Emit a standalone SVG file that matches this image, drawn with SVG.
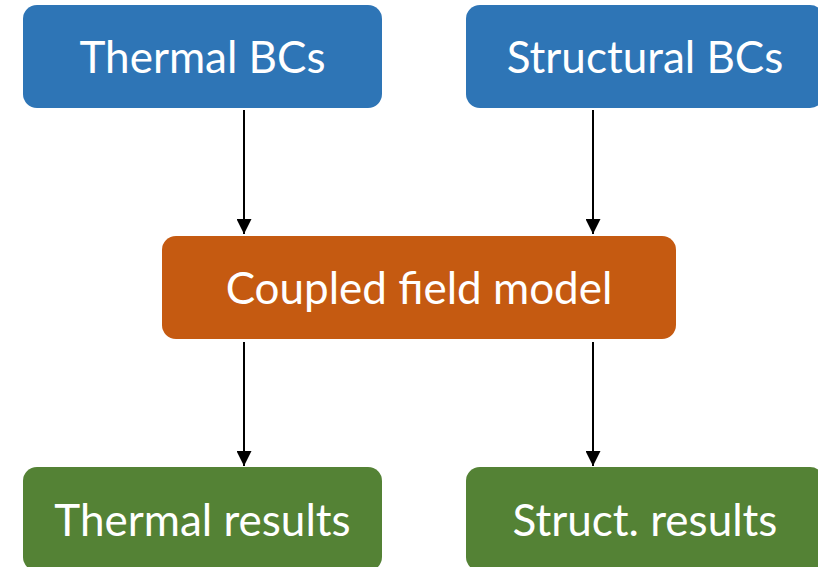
<svg xmlns="http://www.w3.org/2000/svg" width="818" height="567" viewBox="0 0 818 567">
  <style>
    .box { stroke: none; }
    .bc { fill: #2E75B6; }
    .model { fill: #C55A11; }
    .result { fill: #548235; }
    .label { fill: #ffffff; font-family: Lato, "Open Sans", sans-serif; font-size: 44px; text-anchor: middle; }
    .edge { stroke: #000000; stroke-width: 2; fill: none; marker-end: url(#arrow); }
  </style>
  <defs>
    <marker id="arrow" viewBox="0 0 15 15" refX="15" refY="7.5" markerWidth="15" markerHeight="15" markerUnits="userSpaceOnUse" orient="auto">
      <path d="M0,0 L15,7.5 L0,15 Z" fill="#000000"/>
    </marker>
  </defs>
  <rect width="818" height="567" fill="#ffffff"/>

  <g id="thermal-bcs">
    <rect class="box bc" x="23" y="5" width="359" height="103" rx="14"/>
    <text class="label" x="202.5" y="73">Thermal BCs</text>
  </g>
  <g id="structural-bcs">
    <rect class="box bc" x="466" y="5" width="358" height="103" rx="14"/>
    <text class="label" x="645" y="73">Structural BCs</text>
  </g>
  <g id="coupled-model">
    <rect class="box model" x="162" y="236" width="514" height="103" rx="14"/>
    <text class="label" x="419" y="304">Coupled field model</text>
  </g>
  <g id="thermal-results">
    <rect class="box result" x="23" y="467" width="359" height="104" rx="14"/>
    <text class="label" x="202.5" y="536">Thermal results</text>
  </g>
  <g id="struct-results">
    <rect class="box result" x="466" y="467" width="358" height="104" rx="14"/>
    <text class="label" x="645" y="536">Struct. results</text>
  </g>

  <g id="connectors">
    <line class="edge" x1="244" y1="110" x2="244" y2="234"/>
    <line class="edge" x1="593" y1="110" x2="593" y2="234"/>
    <line class="edge" x1="244" y1="342" x2="244" y2="466"/>
    <line class="edge" x1="593" y1="342" x2="593" y2="466"/>
  </g>
</svg>
